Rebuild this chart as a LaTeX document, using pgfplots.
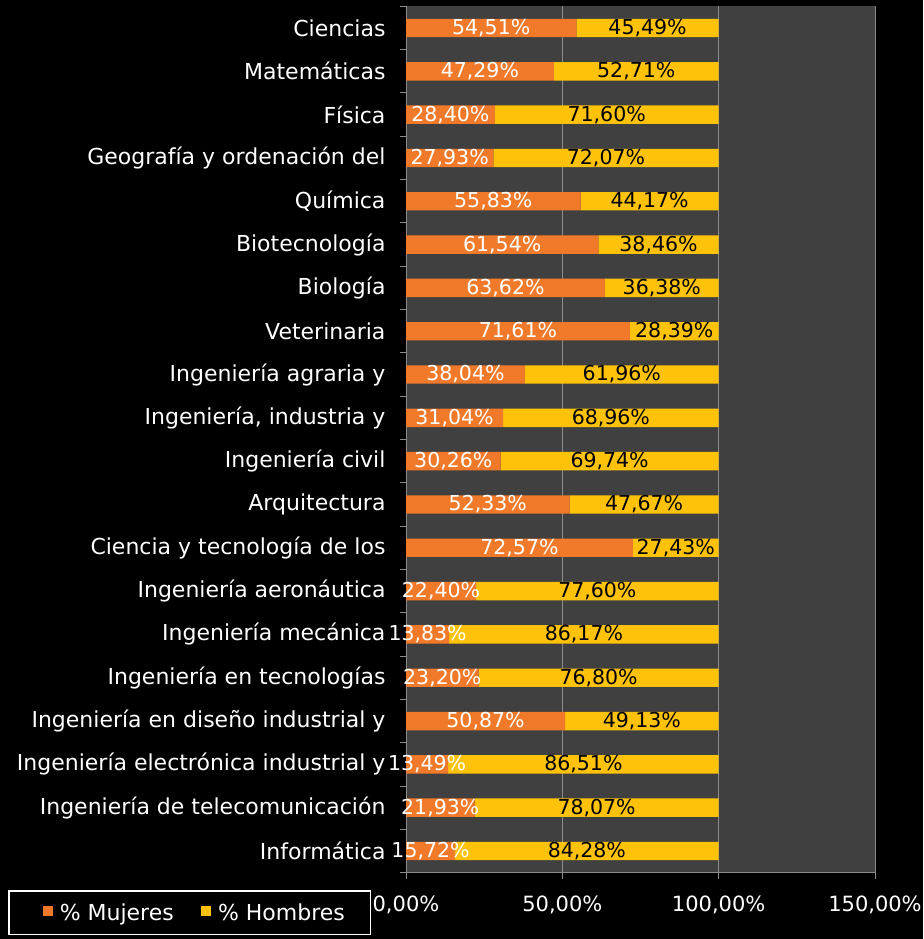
\documentclass[border=0pt]{standalone}
\usepackage{pgfplots}
\pgfplotsset{compat=1.18}
\usepackage{pgfplotstable}
\usepackage{fontspec}
\setmainfont{DejaVu Sans}
\definecolor{orng}{HTML}{F07A2A}
\definecolor{yel}{HTML}{FFC20A}
\definecolor{plotbg}{HTML}{404040}
\definecolor{gridc}{HTML}{8C8C8C}
\pgfplotstableread{
i m h
0 54.51 45.49
1 47.29 52.71
2 28.40 71.60
3 27.93 72.07
4 55.83 44.17
5 61.54 38.46
6 63.62 36.38
7 71.61 28.39
8 38.04 61.96
9 31.04 68.96
10 30.26 69.74
11 52.33 47.67
12 72.57 27.43
13 22.40 77.60
14 13.83 86.17
15 23.20 76.80
16 50.87 49.13
17 13.49 86.51
18 21.93 78.07
19 15.72 84.28
}\data
\begin{document}
\begin{tikzpicture}[x=1pt,y=1pt]
\fill[black] (0,0) rectangle (923,939);
\begin{axis}[
  at={(406pt,66.35pt)}, anchor=south west,
  scale only axis, width=469pt, height=866.3pt,
  xbar stacked, bar width=18.4pt,
  xmin=0, xmax=150, ymin=-0.5, ymax=19.5, y dir=reverse,
  /pgf/number format/assume math mode=true,
  axis background/.style={fill=plotbg},
  axis x line=bottom, axis y line=left,
  axis line style={draw=gridc, line width=1pt, -},
  xmajorgrids, grid style={draw=gridc, line width=1pt},
  tick align=outside, major tick length=6pt,
  tick style={draw=gridc, line width=1pt},
  xtick={0,50,100,150},
  xticklabel={\pgfmathprintnumber[fixed,fixed zerofill,precision=2,use comma]{\tick}\%},
  xticklabel style={font=\fontsize{21}{25}\selectfont, text=white, yshift=-14pt},
  ytick={-0.5,0.5,...,19.5}, yticklabels={},
  extra y ticks={0,...,19},
  extra y tick labels={Ciencias,Matemáticas,Física,Geografía y ordenación del,Química,Biotecnología,Biología,Veterinaria,Ingeniería agraria y,{Ingeniería, industria y},Ingeniería civil,Arquitectura,Ciencia y tecnología de los,Ingeniería aeronáutica,Ingeniería mecánica,Ingeniería en tecnologías,Ingeniería en diseño industrial y,Ingeniería electrónica industrial y,Ingeniería de telecomunicación,Informática},
  extra y tick style={major tick length=0pt, yticklabel style={font=\fontsize{22}{26}\selectfont, text=white, xshift=-17pt}},
  legend style={at={(-0.8486,-0.02003)}, anchor=north west, fill=black, draw=white, line width=1.5pt, text=white, font=\fontsize{22}{26}\selectfont, legend columns=2, inner xsep=23.7pt, inner ysep=10.7pt,
    /tikz/every even column/.append style={column sep=15pt}},
  legend image code/.code={\path (-10.3pt,0pt) (15pt,0pt); \fill[#1] (0pt,-3.3pt) rectangle (10pt,6.7pt);},
  nodes near coords style={font=\fontsize{20.5}{24}\selectfont},
]
\addplot+[fill=orng, draw=none,
  nodes near coords={\pgfmathprintnumber[fixed,fixed zerofill,precision=2,use comma]{\pgfplotspointmeta}\%},
  every node near coord/.append style={anchor=center, text=white}]
  table[x=m, y=i, meta=m] {\data};
\addplot+[fill=yel, draw=none,
  nodes near coords={\pgfmathprintnumber[fixed,fixed zerofill,precision=2,use comma]{\pgfplotspointmeta}\%},
  every node near coord/.append style={anchor=center, text=black}]
  table[x=h, y=i, meta=h] {\data};
\legend{\% Mujeres, \% Hombres}
\end{axis}
\pgfresetboundingbox
\path (0,0) rectangle (923,939);
\end{tikzpicture}
\end{document}
